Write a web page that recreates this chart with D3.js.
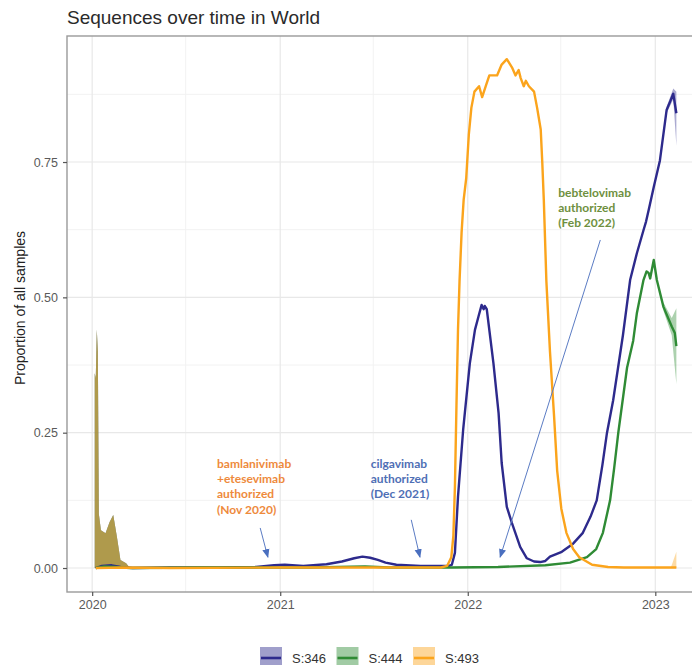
<!DOCTYPE html>
<html>
<head>
<meta charset="utf-8">
<script src="https://cdnjs.cloudflare.com/ajax/libs/d3/7.8.5/d3.min.js"></script>
<style>
  body { margin: 0; background: #fff; }
  text { font-family: "Liberation Sans", Arial, sans-serif; }
</style>
</head>
<body>
<svg id="chart" width="692" height="665"></svg>
<script>
var variants = ["S:346", "S:444", "S:493"];
var colors = ["#2d2a8c", "#2f8b35", "#fba41c"];
var yTicks = [0, 0.25, 0.5, 0.75];
var xTickDates = ["2020-01-01", "2021-01-01", "2022-01-01", "2023-01-01"];
var xTickLabels = ["2020", "2021", "2022", "2023"];

// proportion of samples, [date, value]
var s346 = [["2020-01-08",0.000],["2020-01-20",0.004],["2020-02-08",0.005],["2020-02-25",0.002],["2020-03-20",0.000],["2020-06-01",0.001],["2020-09-01",0.001],["2020-11-15",0.002],["2020-12-20",0.005],["2021-01-10",0.006],["2021-02-15",0.004],["2021-04-01",0.007],["2021-05-01",0.012],["2021-05-25",0.018],["2021-06-10",0.021],["2021-06-25",0.019],["2021-07-10",0.015],["2021-07-25",0.010],["2021-08-15",0.006],["2021-10-01",0.004],["2021-11-25",0.004],["2021-12-01",0.006],["2021-12-07",0.028],["2021-12-13",0.132],["2021-12-23",0.255],["2022-01-05",0.378],["2022-01-15",0.440],["2022-01-22",0.465],["2022-01-28",0.486],["2022-02-01",0.478],["2022-02-03",0.484],["2022-02-07",0.478],["2022-02-20",0.378],["2022-03-02",0.286],["2022-03-08",0.194],["2022-03-18",0.113],["2022-03-28",0.083],["2022-04-13",0.039],["2022-04-26",0.018],["2022-05-10",0.012],["2022-05-22",0.011],["2022-06-01",0.013],["2022-06-10",0.021],["2022-07-03",0.030],["2022-07-25",0.045],["2022-08-13",0.065],["2022-08-28",0.095],["2022-09-09",0.125],["2022-09-20",0.190],["2022-09-29",0.250],["2022-10-11",0.310],["2022-10-30",0.430],["2022-11-13",0.532],["2022-11-26",0.581],["2022-12-09",0.624],["2022-12-14",0.640],["2022-12-19",0.661],["2022-12-29",0.704],["2023-01-10",0.753],["2023-01-23",0.846],["2023-01-30",0.862],["2023-02-05",0.876],["2023-02-11",0.840]];

var s444 = [["2020-01-08",0.000],["2020-01-25",0.003],["2020-02-15",0.002],["2020-03-15",0.000],["2020-08-01",0.001],["2021-03-01",0.001],["2021-06-15",0.003],["2021-08-01",0.001],["2021-12-01",0.001],["2022-03-01",0.002],["2022-06-01",0.005],["2022-07-19",0.010],["2022-08-21",0.020],["2022-09-08",0.035],["2022-09-21",0.065],["2022-10-05",0.125],["2022-10-13",0.185],["2022-10-21",0.250],["2022-11-07",0.370],["2022-11-19",0.420],["2022-11-26",0.470],["2022-12-09",0.532],["2022-12-15",0.548],["2022-12-19",0.545],["2022-12-22",0.535],["2022-12-29",0.569],["2023-01-04",0.532],["2023-01-17",0.482],["2023-02-02",0.446],["2023-02-08",0.434],["2023-02-11",0.410]];

var s493 = [["2020-01-08",0.000],["2020-03-01",0.001],["2020-06-01",0.000],["2021-01-01",0.001],["2021-06-01",0.001],["2021-11-10",0.001],["2021-11-22",0.004],["2021-11-30",0.020],["2021-12-04",0.060],["2021-12-07",0.150],["2021-12-10",0.300],["2021-12-13",0.440],["2021-12-16",0.530],["2021-12-20",0.620],["2021-12-24",0.680],["2021-12-29",0.720],["2022-01-03",0.800],["2022-01-08",0.850],["2022-01-14",0.880],["2022-01-23",0.890],["2022-01-29",0.870],["2022-02-05",0.890],["2022-02-12",0.910],["2022-02-27",0.910],["2022-03-08",0.930],["2022-03-18",0.940],["2022-03-28",0.925],["2022-04-04",0.910],["2022-04-10",0.920],["2022-04-14",0.905],["2022-04-20",0.890],["2022-04-24",0.900],["2022-04-30",0.890],["2022-05-10",0.880],["2022-05-16",0.850],["2022-05-23",0.810],["2022-05-26",0.750],["2022-05-29",0.680],["2022-06-03",0.530],["2022-06-10",0.400],["2022-06-18",0.280],["2022-06-24",0.180],["2022-07-02",0.110],["2022-07-12",0.065],["2022-07-25",0.035],["2022-08-06",0.020],["2022-08-31",0.006],["2022-10-01",0.002],["2022-11-01",0.001],["2023-02-11",0.001]];

// confidence bands, [date, lower, upper]
var ciEarly = [["2020-01-06",0,0.360],["2020-01-08",0,0.350],["2020-01-10",0,0.440],["2020-01-12",0,0.400],["2020-01-14",0,0.100],["2020-01-18",0,0.070],["2020-01-27",0,0.064],["2020-02-04",0,0.085],["2020-02-11",0,0.098],["2020-02-18",0,0.058],["2020-02-25",0,0.015],["2020-03-07",0,0.009],["2020-03-13",0,0.002],["2020-04-01",0,0.000]];
var ci346End = [["2023-01-23",0.840,0.852],["2023-02-05",0.866,0.886],["2023-02-11",0.780,0.880]];
var ci444End = [["2023-01-17",0.475,0.490],["2023-02-02",0.430,0.462],["2023-02-11",0.340,0.480]];
var ci493End = [["2023-02-01",0.000,0.003],["2023-02-11",0.000,0.030]];

var notes = [
    { lines: ["bamlanivimab", "+etesevimab", "authorized", "(Nov 2020)"], date: "2020-08-31", value: 0.185, color: "#ee8a3c",
      from: ["2020-11-23", 0.074], to: ["2020-12-08", 0.020] },
    { lines: ["cilgavimab", "authorized", "(Dec 2021)"], date: "2021-06-26", value: 0.185, color: "#4f6fb5",
      from: ["2021-09-13", 0.089], to: ["2021-09-30", 0.020] },
    { lines: ["bebtelovimab", "authorized", "(Feb 2022)"], date: "2022-06-26", value: 0.686, color: "#6e9040",
      from: ["2022-09-16", 0.606], to: ["2022-03-05", 0.020] }
];

var parse = d3.utcParse("%Y-%m-%d");
var svg = d3.select("#chart");

var pLeft = 67, pTop = 36, pBottom = 592, pRight = 700;

var x = d3.scaleUtc()
    .domain([parse("2019-11-13"), parse("2023-03-29")])
    .range([pLeft, pRight]);
var y = d3.scaleLinear()
    .domain([-0.0443, 0.9828])
    .range([pBottom, pTop]);

var defs = svg.append("defs");
defs.append("clipPath").attr("id", "clip")
    .append("rect").attr("x", pLeft).attr("y", pTop).attr("width", pRight - pLeft).attr("height", pBottom - pTop);

// grid
var minorY = [0.125, 0.375, 0.625, 0.875];
var minorX = ["2020-07-01", "2021-07-01", "2022-07-01"];
var grid = svg.append("g");
grid.selectAll(".gy2").data(minorY).enter().append("line")
    .attr("x1", pLeft).attr("x2", pRight).attr("y1", d => y(d)).attr("y2", d => y(d))
    .style("stroke", "#f2f2f2").style("stroke-width", 1);
grid.selectAll(".gx2").data(minorX).enter().append("line")
    .attr("y1", pTop).attr("y2", pBottom).attr("x1", d => x(parse(d))).attr("x2", d => x(parse(d)))
    .style("stroke", "#f2f2f2").style("stroke-width", 1);
grid.selectAll(".gy").data(yTicks).enter().append("line")
    .attr("x1", pLeft).attr("x2", pRight).attr("y1", d => y(d)).attr("y2", d => y(d))
    .style("stroke", "#e8e8e8").style("stroke-width", 1.2);
grid.selectAll(".gx").data(xTickDates).enter().append("line")
    .attr("y1", pTop).attr("y2", pBottom).attr("x1", d => x(parse(d))).attr("x2", d => x(parse(d)))
    .style("stroke", "#e8e8e8").style("stroke-width", 1.2);

var plot = svg.append("g").attr("clip-path", "url(#clip)");

var area = d3.area()
    .x(d => x(parse(d[0])))
    .y0(d => y(d[1]))
    .y1(d => y(d[2]));
var line = d3.line()
    .x(d => x(parse(d[0])))
    .y(d => y(d[1]));

var series = [s346, s444, s493];
var endBands = [ci346End, ci444End, ci493End];

series.forEach(function (s, i) {
    plot.append("path").attr("d", area(ciEarly))
        .style("fill", colors[i]).style("opacity", 0.5);
    plot.append("path").attr("d", area(endBands[i]))
        .style("fill", colors[i]).style("opacity", 0.4);
});
series.forEach(function (s, i) {
    plot.append("path").attr("d", line(s))
        .style("fill", "none")
        .style("stroke", colors[i])
        .style("stroke-width", 2.4)
        .style("stroke-linejoin", "round");
});

// panel border
svg.append("rect")
    .attr("x", pLeft).attr("y", pTop).attr("width", pRight - pLeft).attr("height", pBottom - pTop)
    .style("fill", "none").style("stroke", "#9a9a9a").style("stroke-width", 1.4);

// axes
var yAxis = svg.append("g")
    .attr("transform", "translate(" + pLeft + ",0)")
    .call(d3.axisLeft(y).tickValues(yTicks).tickFormat(d3.format(".2f")).tickSize(4).tickPadding(5));
var xAxis = svg.append("g")
    .attr("transform", "translate(0," + pBottom + ")")
    .call(d3.axisBottom(x).tickValues(xTickDates.map(parse)).tickFormat((d, i) => xTickLabels[i]).tickSize(4).tickPadding(4));
[yAxis, xAxis].forEach(function (a) {
    a.select(".domain").remove();
    a.selectAll(".tick line").style("stroke", "#555").style("stroke-width", 1.2);
    a.selectAll(".tick text").style("fill", "#5a5a5a").style("font-size", "12.5px")
        .style("font-family", "Liberation Sans, Arial, sans-serif");
});

svg.append("text")
    .attr("transform", "translate(25,308) rotate(-90)")
    .attr("text-anchor", "middle")
    .style("font-size", "14px")
    .style("fill", "#222")
    .text("Proportion of all samples");

svg.append("text")
    .attr("x", 67).attr("y", 24)
    .style("font-size", "19px")
    .style("fill", "#2a2a2a")
    .text("Sequences over time in World");

// annotations
defs.append("marker").attr("id", "arrow")
    .attr("viewBox", "0 0 10 10").attr("refX", 9).attr("refY", 5)
    .attr("markerUnits", "userSpaceOnUse").attr("markerWidth", 9).attr("markerHeight", 9)
    .attr("orient", "auto")
    .append("path").attr("d", "M0,1 L10,5 L0,9 z").style("fill", "#4a6fbf");

notes.forEach(function (n) {
    svg.append("line")
        .attr("x1", x(parse(n.from[0]))).attr("y1", y(n.from[1]))
        .attr("x2", x(parse(n.to[0]))).attr("y2", y(n.to[1]))
        .style("stroke", "#5b7cc4").style("stroke-width", 1)
        .attr("marker-end", "url(#arrow)");
    var t = svg.append("text")
        .attr("x", x(parse(n.date))).attr("y", y(n.value))
        .style("font-family", "Lato, 'Open Sans', sans-serif")
        .style("font-weight", "bold")
        .style("font-size", "12px")
        .style("fill", n.color);
    t.selectAll("tspan").data(n.lines).enter().append("tspan")
        .attr("x", x(parse(n.date)))
        .attr("dy", (d, i) => i === 0 ? 0 : 15.3)
        .text(d => d);
});

// legend
var legend = svg.append("g");
var key = legend.selectAll("g").data(variants).enter().append("g")
    .attr("transform", (d, i) => "translate(" + (260 + i * 76.5) + ",647)");
key.append("rect").attr("width", 22).attr("height", 22)
    .style("fill", (d, i) => colors[i]).style("opacity", 0.45);
key.append("line").attr("x1", 1).attr("x2", 21).attr("y1", 11).attr("y2", 11)
    .style("stroke", (d, i) => colors[i]).style("stroke-width", 2.6);
key.append("text").attr("x", 32).attr("y", 15.5)
    .style("font-size", "13px").style("fill", "#333")
    .text(d => d);
</script>
</body>
</html>
